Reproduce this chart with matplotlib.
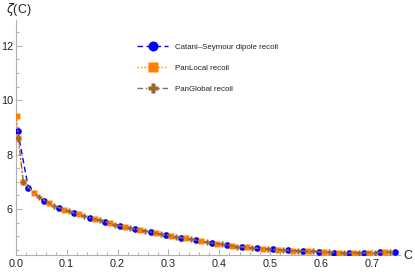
import matplotlib
matplotlib.use('Agg')
import matplotlib.pyplot as plt
from matplotlib.ticker import MultipleLocator

# zeta(C); each series is marked at its own C values
c_blue = [0.004, 0.025, 0.055, 0.085, 0.115, 0.145, 0.175, 0.205, 0.235, 0.265,
          0.295, 0.325, 0.355, 0.385, 0.415, 0.445, 0.475, 0.505, 0.535, 0.565,
          0.595, 0.625, 0.655, 0.685, 0.715, 0.745]
z_blue = [8.86, 6.76, 6.31, 6.04, 5.86, 5.68, 5.53, 5.39, 5.27, 5.16,
          5.04, 4.95, 4.85, 4.75, 4.67, 4.60, 4.56, 4.52, 4.48, 4.46,
          4.43, 4.40, 4.39, 4.40, 4.41, 4.43]

c_orange = [0.002, 0.005, 0.015, 0.035, 0.065, 0.095, 0.125, 0.155, 0.185, 0.215,
            0.245, 0.275, 0.305, 0.335, 0.365, 0.395, 0.425, 0.455, 0.485, 0.515,
            0.545, 0.575, 0.605, 0.635, 0.665, 0.695, 0.725]
z_orange = [9.41, 8.62, 6.99, 6.58, 6.21, 5.97, 5.80, 5.63, 5.48, 5.35,
            5.23, 5.12, 5.01, 4.92, 4.82, 4.73, 4.65, 4.59, 4.54, 4.50,
            4.47, 4.45, 4.42, 4.40, 4.39, 4.40, 4.41]

c_brown = [0.005, 0.015, 0.045, 0.075, 0.105, 0.135, 0.165, 0.195, 0.225, 0.255,
           0.285, 0.315, 0.345, 0.375, 0.405, 0.435, 0.465, 0.495, 0.525, 0.555,
           0.585, 0.615, 0.645, 0.675, 0.705, 0.735]
z_brown = [8.62, 6.99, 6.45, 6.12, 5.92, 5.74, 5.58, 5.43, 5.31, 5.19,
           5.08, 4.98, 4.89, 4.78, 4.70, 4.62, 4.57, 4.53, 4.49, 4.46,
           4.44, 4.41, 4.39, 4.39, 4.40, 4.42]

labels = ['Catani\u2013Seymour dipole recoil', 'PanLocal recoil', 'PanGlobal recoil']

plt.rcParams['font.family'] = ['Liberation Sans', 'DejaVu Sans']

fig = plt.figure(figsize=(4.15, 2.74), dpi=100)
ax = fig.add_axes([15.7 / 415, 19 / 274, 384.3 / 415, 235 / 274])

axis_col = '#b0b0b0'
ax.plot(c_blue, z_blue, color='#0000ff', ls=(0, (4, 2.5)), lw=1.0,
        marker='o', ms=4.8, mec='none', label=labels[0], zorder=3)
ax.plot(c_orange, z_orange, color='#ff8000', ls=(0, (1, 1.5)), lw=1.0,
        marker='s', ms=4.8, mec='none', label=labels[1], zorder=4)
ax.plot(c_brown, z_brown, color='#996633', ls=(0, (4, 2, 1, 2)), lw=1.0,
        marker='P', ms=5.0, mec='none', label=labels[2], zorder=5)

ax.set_xlim(0, 0.755)
ax.set_ylim(4.31, 12.95)
for s in ['top', 'right']:
    ax.spines[s].set_visible(False)
for s in ['left', 'bottom']:
    ax.spines[s].set_color(axis_col)
    ax.spines[s].set_linewidth(0.8)

ax.xaxis.set_minor_locator(MultipleLocator(0.02))
ax.yaxis.set_minor_locator(MultipleLocator(0.5))
ax.set_yticks([6, 8, 10, 12])
ax.set_xticks([0.0, 0.1, 0.2, 0.3, 0.4, 0.5, 0.6, 0.7])
ax.set_xticklabels(['0.0', '0.1', '0.2', '0.3', '0.4', '0.5', '0.6', '0.7'])
ax.tick_params(which='both', direction='in', color=axis_col, width=0.7,
               labelsize=7.8, labelcolor='#222222')
ax.tick_params(which='major', length=4)
ax.tick_params(axis='y', which='major', pad=2)
ax.tick_params(axis='x', which='major', pad=3)
ax.tick_params(which='minor', length=2)

fig.text(6 / 415, 1 - 10 / 274, r'$\zeta$(C)', fontsize=9, color='#222222',
         ha='left', va='center')
fig.text(403 / 415, 1 - 256 / 274, 'C', fontsize=9, color='#222222',
         ha='left', va='center')

leg = ax.legend(loc='upper left', bbox_to_anchor=(134 / 415, 1 - 40 / 274),
                bbox_transform=fig.transFigure, borderaxespad=0,
                frameon=False, fontsize=5.7, handlelength=3.9,
                handletextpad=0.9, labelspacing=1.72, markerscale=1.5)
for t in leg.get_texts():
    t.set_color('#222222')

fig.savefig('out.png', dpi=100)
